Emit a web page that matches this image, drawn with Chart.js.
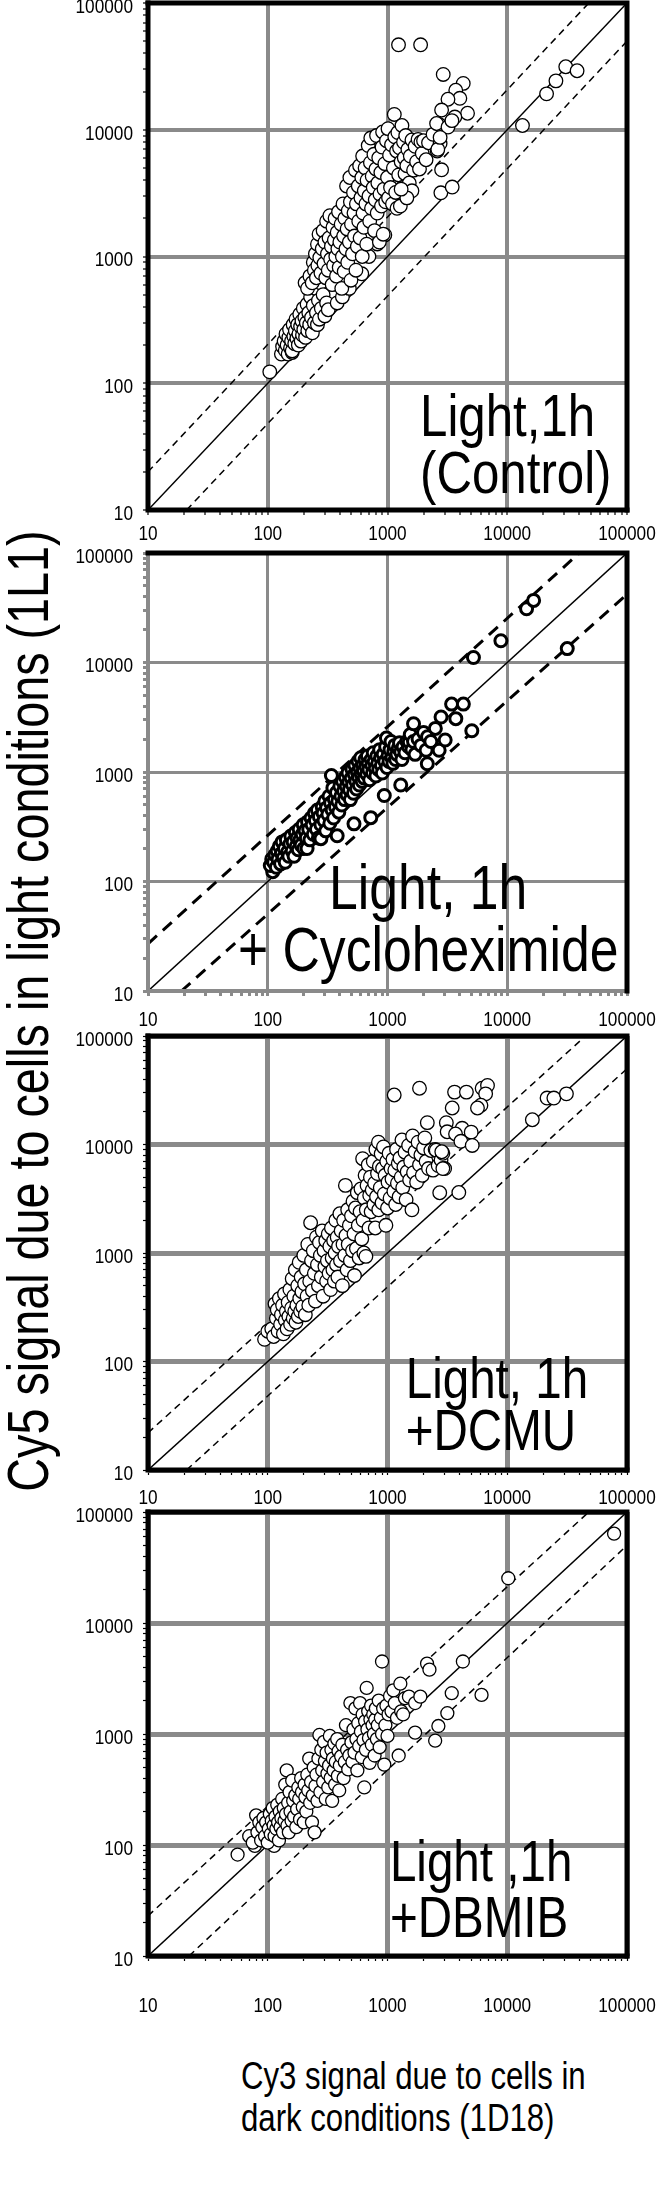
<!DOCTYPE html>
<html>
<head>
<meta charset="utf-8">
<script src="https://cdn.jsdelivr.net/npm/chart.js@4.4.0/dist/chart.umd.min.js"></script>
<style>
  html, body { margin: 0; padding: 0; background: #fff; }
  body { width: 665px; height: 2195px; position: relative; overflow: hidden; font-family: "Liberation Sans", Arial, sans-serif; }
  canvas { position: absolute; left: 0; }
  #ytitle { position: absolute; width: 1200px; height: 60px; line-height: 60px; text-align: center; white-space: nowrap; color: #000; }
  #xtitle { position: absolute; line-height: 42px; color: #000; white-space: nowrap; transform-origin: 0 0; }
</style>
</head>
<body>
<canvas id="grafico1"></canvas>
<canvas id="grafico2"></canvas>
<canvas id="grafico3"></canvas>
<canvas id="grafico4"></canvas>
<div id="ytitle"></div>
<div id="xtitle"></div>
<script>
// ---------------------------------------------------------------
// data  [Cy3 dark, Cy5 light]
// ---------------------------------------------------------------
var controlPts = [[104,123],[130,170],[133,195],[137,215],[140,182],[142,245],[145,200],[148,170],[150,230],[152,265],[155,190],[158,215],[160,175],[160,180],[163,290],[165,235],[168,205],[170,260],[172,320],[175,225],[178,290],[180,200],[182,245],[185,350],[188,280],[190,215],[193,310],[195,240],[198,390],[200,265],[204,330],[207,230],[210,300],[213,420],[216,260],[220,360],[224,290],[228,480],[232,330],[236,250],[240,410],[245,300],[250,560],[255,360],[260,290],[265,450],[270,320],[275,620],[280,390],[290,500],[300,340],[310,430],[320,380],[380,430],[420,480],[480,560],[610,730],[700,1000],[822,1256],[950,1480],
  [205,620],[215,560],[225,700],[235,620],[240,900],[245,780],[250,1050],[255,680],[260,1250],[262,850],[268,1500],[272,980],[278,740],[285,1150],[290,1600],[295,880],[300,1300],[305,680],[310,1900],[315,1050],[320,780],[325,1400],[330,2100],[335,950],[340,1200],[345,600],[350,1700],[355,850],[360,1350],[365,2000],[370,1000],[375,700],[380,1550],[385,1150],[390,2250],[395,820],[400,1300],[410,1800],[415,560],[420,1000],[425,2600],[430,1450],[435,760],[440,2000],[450,1150],[455,3600],[460,1650],[465,900],[470,2300],[480,1300],[485,4200],[490,2700],[495,650],[500,1800],[510,1050],[520,3200],[525,2200],[530,1450],[540,4800],[545,780],[550,2600],[560,1200],[570,3600],[575,1900],[585,5200],[590,1400],[600,2900],[610,4200],[615,1000],[620,6200],[625,2200],[635,1700],[640,3300],[650,5000],[660,2600],[670,1250],[675,4000],[690,7500],[700,3000],[710,1900],[720,5500],[725,8600],[735,2400],[745,4300],[760,3500],[770,6400],[780,1600],[790,2800],[800,4900],[810,9000],[820,2200],[830,3800],[845,6000],[855,1300],[865,3100],[880,4600],[890,2500],[900,7300],[910,9600],[920,1500],[935,3400],[950,5400],[965,2700],[980,8200],[1000,4200],[1010,10200],[1020,2900],[1040,6300],[1060,3500],[1080,7600],[1100,2600],[1120,5000],[1140,13200],[1150,8800],[1170,3200],[1190,6800],[1200,2400],[1220,9500],[1240,4400],[1260,7200],[1280,2500],[1300,5600],[1320,10800],[1340,3500],[1360,8000],[1380,6000],[1400,4500],[1420,9000],[1450,5200],[1480,7000],[1520,3800],[1550,6200],[1600,8300],[1650,4800],[1700,7400],[1750,5600],[1800,8400],[1850,4900],[1900,8000],[1950,6500],[2000,8200],[2100,5800],[2200,7900],[2400,9200],[2600,6800],[2700,11000],[2750,7800],
  [1236,46800],[1890,46800],[2920,27300],[4290,23200],[3715,20500],[4020,17700],[3200,17400],[4660,13500],[3650,12600],[2830,14300],[2570,11200],[3200,10500],[3450,11800],[30800,31400],[38300,29200],[25500,24300],[21300,19200],[13400,10800],[2790,3180],[3470,3530],[2830,4830],[2630,7000],[2750,8700],[1600,3300],[1450,2900],[1300,3400]];

var cycloPts = [[110,123],[105,140],[108,160],[112,150],[115,175],[118,135],[120,190],[122,160],[125,210],[128,145],[130,180],[132,230],[135,165],[138,200],[140,150],[143,240],[146,185],[150,170],[153,220],[156,260],[160,190],[163,230],[166,170],[170,280],[173,210],[176,250],[180,195],[183,300],[186,240],[190,215],[194,270],[198,330],[200,200],[205,290],[210,250],[213,200],[215,350],[220,300],[225,240],[230,380],[235,330],[240,270],[245,420],[250,360],[255,300],[260,450],[265,250],[270,390],[278,246],[278,330],[285,480],[290,420],[295,360],[300,540],[305,290],[310,470],[318,410],[325,600],[330,340],[335,520],[340,930],[345,450],[350,716],[355,380],[360,560],[368,480],[375,650],[380,262],[385,540],[392,430],[400,740],[408,600],[415,500],[422,820],[430,670],[438,560],[445,900],[452,740],[460,620],[468,980],[475,810],[482,690],[490,560],[498,880],[505,1060],[512,760],[520,640],[525,336],[528,950],[535,1150],[545,820],[552,700],[560,1000],[568,1250],[575,890],[582,760],[590,1080],[598,1350],[605,950],[615,820],[622,1150],[630,1020],[640,880],[650,1300],[660,1120],[670,960],[680,1400],[690,1200],[700,1050],[710,850],[725,383],[730,1300],[740,1150],[750,980],[760,1500],[775,1250],[790,1080],[800,920],[815,1400],[830,1200],[845,1050],[860,1600],[875,1350],[890,1150],[905,980],[920,1450],[940,610],[950,1250],[965,1700],[980,2040],[990,1100],[1010,1400],[1030,1250],[1050,1600],[1070,1900],[1090,1350],[1110,1200],[1130,1550],[1150,1750],[1170,1300],[1200,1450],[1230,1650],[1260,1850],[1290,760],[1290,1520],[1320,1300],[1350,1700],[1400,1500],[1450,1900],[1500,1700],[1520,1880],[1550,2200],[1600,1600],[1650,2760],[1650,1900],[1700,1450],[1800,2000],[1900,1750],[2000,2300],[2100,1580],[2150,1190],[2160,2100],[2300,1900],[2510,2500],[2700,1580],[2800,3180],[3030,1960],[3430,4170],[4300,4170],[3720,3070],[5060,2380],[5220,11100],[8850,15800],[14500,31000],[16600,36900],[31700,13400]];

var dcmuPts = [[94,160],[100,190],[108,200],[112,170],[115,340],[118,250],[120,300],[122,190],[125,380],[128,220],[130,270],[133,330],[135,180],[138,420],[140,240],[143,290],[145,200],[148,350],[150,260],[153,460],[155,220],[158,310],[160,580],[163,250],[165,400],[168,290],[170,700],[172,230],[175,330],[178,500],[180,260],[183,820],[185,380],[188,290],[190,600],[193,440],[196,320],[200,950],[203,520],[206,270],[210,700],[213,400],[216,1200],[220,330],[224,550],[228,1900],[232,850],[236,450],[240,1050],[245,650],[250,360],[255,1400],[260,780],[265,500],[270,1250],[275,950],[280,600],[285,1600],[290,400],[295,1050],[300,750],[305,1300],[310,550],[315,850],[320,1500],[325,650],[330,1150],[335,460],[340,1700],[345,900],[350,700],[355,1300],[360,550],[365,1000],[370,2000],[375,780],[380,1400],[385,600],[390,1150],[400,2300],[405,850],[410,1600],[420,500],[425,1200],[430,2000],[440,950],[445,4200],[450,1450],[460,700],[465,2500],[470,1200],[480,1800],[490,850],[500,2200],[510,1050],[515,3000],[525,1500],[530,620],[540,2600],[550,1100],[560,3600],[570,1800],[580,900],[590,2400],[600,3900],[610,1350],[620,7400],[625,2000],[635,1000],[640,3200],[650,5200],[660,930],[665,2500],[675,4200],[690,6500],[700,1700],[710,3400],[720,5000],[730,2400],[745,3800],[760,7000],[770,2800],[780,4400],[790,1700],[800,9000],[810,3300],[825,5400],[840,10500],[845,2500],[855,6300],[870,4000],[885,8200],[900,2900],[910,6000],[925,9500],[940,3500],[955,5200],[970,1800],[985,7000],[1000,2600],[1010,4500],[1030,8300],[1050,3200],[1070,6000],[1090,4800],[1110,7300],[1130,3700],[1150,5800],[1170,2800],[1190,9000],[1210,4400],[1230,6700],[1250,3300],[1270,7500],[1300,5000],[1320,11000],[1340,4000],[1370,6200],[1400,8500],[1430,3100],[1460,5600],[1500,9800],[1530,4700],[1560,7000],[1600,2500],[1620,12000],[1650,5500],[1700,8600],[1750,4500],[1800,10500],[1850,6500],[1900,8000],[1950,5200],[2000,9300],[2050,11500],[2100,7000],[2200,6000],[2300,8800],[2400,5800],[2500,9000],[2550,8850],[2650,6400],[2800,7200],[2900,8300],[3000,6000],
  [1138,28600],[1850,33000],[3630,30400],[4560,30400],[3470,21700],[6170,33000],[6840,35000],[6600,29300],[6030,23000],[5640,21700],[2150,15900],[3100,15900],[3150,13100],[4200,14100],[3700,12500],[5000,13000],[4100,10700],[5100,9800],[21500,26800],[24500,26800],[31200,29300],[16200,16900],[3940,3610],[2730,3590],[2840,8570],[2900,6000]];

var dbmibPts = [[56,82],[78,98],[113,98],[70,120],[75,105],[80,185],[82,130],[85,160],[88,110],[90,145],[92,175],[95,120],[97,160],[100,105],[102,140],[104,190],[106,125],[108,165],[110,215],[112,150],[114,120],[116,180],[118,140],[120,230],[122,160],[124,110],[126,200],[128,145],[130,175],[132,260],[134,130],[136,215],[138,165],[140,350],[142,190],[144,470],[146,150],[148,240],[150,130],[152,300],[155,200],[158,165],[160,380],[163,250],[166,180],[170,280],[173,145],[176,210],[180,330],[183,260],[186,170],[190,400],[193,300],[196,220],[200,160],[203,350],[206,270],[210,200],[214,430],[218,310],[222,600],[226,240],[230,370],[234,160],[238,280],[242,500],[246,130],[250,340],[255,430],[260,250],[265,600],[270,980],[275,300],[280,720],[285,470],[290,370],[295,850],[300,570],[305,260],[310,680],[315,440],[320,330],[325,520],[330,960],[335,400],[340,720],[345,250],[350,600],[355,470],[360,820],[365,350],[370,560],[380,900],[385,420],[390,700],[395,310],[400,520],[410,630],[420,800],[430,400],[440,560],[450,1200],[460,720],[470,480],[480,640],[490,1900],[500,840],[510,560],[520,1100],[530,680],[540,1700],[550,900],[560,470],[570,1250],[580,780],[590,1900],[600,1050],[610,620],[620,1500],[630,880],[640,330],[650,1300],[660,720],[670,2600],[680,1100],[690,1600],[700,920],[710,550],[720,1350],[730,1800],[740,800],[750,1200],[760,1500],[770,1000],[780,640],[790,1350],[800,1700],[815,900],[830,1200],[845,2000],[860,760],[880,1400],[900,4500],[900,1000],[920,1700],[940,530],[960,1200],[980,1800],[1000,960],[1020,1500],[1050,2200],[1080,1600],[1120,2470],[1150,1900],[1200,1400],[1240,640],[1280,2840],[1300,1600],[1350,1500],[1400,2100],[1510,2170],[1700,1030],[1700,1900],[1880,2170],[2140,4310],[2240,3800],[2500,870],[2660,1180],[3160,1540],[3440,2330],[4260,4500],[6100,2250],[10200,25300],[78000,63800]];

// reference lines (1:1 solid, 2-fold dashed)
var diag1to1 = [[10,10],[100000,100000]];
var diagUp = [[[10,20],[48000,100000]], [[10,27],[40000,100000]], [[10,22],[45000,100000]], [[10,23],[48000,100000]]];
var diagDown = [[[21,10],[100000,50000]], [[19,10],[100000,42000]], [[21,10],[100000,50000]], [[22,10],[100000,50000]]];

var axisTicks = [10,20,30,40,50,60,70,80,90,100,200,300,400,500,600,700,800,900,1000,2000,3000,4000,5000,6000,7000,8000,9000,10000,20000,30000,40000,50000,60000,70000,80000,90000,100000];
var majorTicks = [10,100,1000,10000,100000];

var panelLabels = [['Light,1h','(Control)'], ['Light, 1h','+ Cycloheximide'], ['Light, 1h','+DCMU'], ['Light ,1h','+DBMIB']];
var yTitle = 'Cy5 signal due to cells in light conditions (1L1)';
var xTitle = ['Cy3 signal due to cells in','dark conditions (1D18)'];

// ---------------------------------------------------------------
// fonts: the figure uses a narrow sans; squeeze the regular one if the narrow face is missing
// ---------------------------------------------------------------
var mctx = document.createElement('canvas').getContext('2d');
mctx.font = '40px "Liberation Sans Narrow", monospace';
var wN = mctx.measureText('Light,1h 100000').width;
mctx.font = '40px monospace';
var wM = mctx.measureText('Light,1h 100000').width;
var hasNarrow = Math.abs(wN - wM) > 0.5;
var FONT = hasNarrow ? '"Liberation Sans Narrow", "Liberation Sans", Arial, sans-serif' : '"Liberation Sans", Arial, sans-serif';
var SQ = hasNarrow ? 1 : 0.82;

// ---------------------------------------------------------------
// layout
// ---------------------------------------------------------------
var plotLeft = 148, plotRight = 627, padTop = 14;
var panels = [
  {id:'grafico1', data:controlPts, top:3,    h:507, axisH:44,  lblOff:24, grid:4, gridTick:'#000', gtw:1.2, frameL:'#000', r:6.8, bw:1.3, dash:[7,5], dw:1.5,
   txt:{x:0.568, y:[0.821,0.934], align:'left', size:60}},
  {id:'grafico2', data:cycloPts,   top:553,  h:438, axisH:44,  lblOff:29, grid:3, gridTick:'#8a8a8a', gtw:3, frameL:'#8a8a8a', r:6, bw:3, dash:[12,8], dw:3,
   txt:{x:0.585, y:[0.773,0.914], align:'center', size:63}},
  {id:'grafico3', data:dcmuPts,    top:1036, h:434, axisH:44,  lblOff:28, grid:5, gridTick:'#000', gtw:1.2, frameL:'#000', r:6.8, bw:1.3, dash:[7,5], dw:1.5,
   txt:{x:0.538, y:[0.797,0.916], align:'left', size:58}},
  {id:'grafico4', data:dbmibPts,   top:1512, h:444, axisH:70,  lblOff:50, grid:5, gridTick:'#000', gtw:1.2, frameL:'#000', r:6.5, bw:1.3, dash:[7,5], dw:1.5,
   txt:{x:0.505, y:[0.795,0.921], align:'left', size:58}}
];

var toXY = function(arr){ return arr.map(function(p){ return {x:p[0], y:p[1]}; }); };

var setTicks = function(scale){
  scale.ticks = axisTicks.map(function(v){ return {value:v, major: majorTicks.indexOf(v) >= 0}; });
};

var framePlugin = {
  id: 'frame',
  afterDraw: function(chart, args, o){
    var a = chart.chartArea, ctx = chart.ctx;
    ctx.save();
    ctx.lineCap = 'square';
    ctx.strokeStyle = o.leftColor; ctx.lineWidth = o.leftWidth;
    ctx.beginPath(); ctx.moveTo(a.left, a.top); ctx.lineTo(a.left, a.bottom); ctx.lineTo(a.right, a.bottom); ctx.stroke();
    ctx.strokeStyle = '#000'; ctx.lineWidth = 5;
    ctx.beginPath(); ctx.moveTo(a.left, a.top); ctx.lineTo(a.right, a.top); ctx.lineTo(a.right, a.bottom); ctx.stroke();
    ctx.restore();
  }
};

// squeezed text helper
var sqText = function(ctx, t, x, y){
  ctx.save();
  ctx.translate(x, y);
  ctx.scale(SQ, 1);
  ctx.fillText(t, 0, 0);
  ctx.restore();
};

var labelPlugin = {
  id: 'panelText',
  afterDraw: function(chart, args, o){
    var a = chart.chartArea, ctx = chart.ctx;
    ctx.fillStyle = '#000';
    ctx.font = o.size + 'px ' + FONT;
    ctx.textAlign = o.align;
    ctx.textBaseline = 'middle';
    o.lines.forEach(function(t, i){
      sqText(ctx, t, a.left + o.x * a.width, a.top + o.y[i] * a.height);
    });
  }
};

// decade labels, placed with the chart's own scales
var tickTextPlugin = {
  id: 'tickText',
  afterDraw: function(chart, args, o){
    var a = chart.chartArea, ctx = chart.ctx;
    var xs = chart.scales.x, ys = chart.scales.y;
    ctx.fillStyle = '#000';
    ctx.font = '21px ' + FONT;
    ctx.textBaseline = 'middle';
    majorTicks.forEach(function(v){
      ctx.textAlign = 'right';
      sqText(ctx, String(v), a.left - 15, ys.getPixelForValue(v) + 4);
      ctx.textAlign = 'center';
      sqText(ctx, String(v), xs.getPixelForValue(v), a.bottom + o.off);
    });
  }
};

var grafPanel = function(p, idx){
  var cv = document.getElementById(p.id);
  var H = padTop + p.h + p.axisH;
  cv.width = 665; cv.height = H;
  cv.style.width = '665px'; cv.style.height = H + 'px';
  cv.style.top = (p.top - padTop) + 'px';

  var axisCommon = function(){
    return {
      type: 'logarithmic', min: 10, max: 100000,
      afterBuildTicks: setTicks,
      border: {display: false},
      grid: {
        color: function(c){ return c.tick && c.tick.major ? '#8a8a8a' : 'rgba(0,0,0,0)'; },
        lineWidth: p.grid,
        tickColor: p.gridTick, tickWidth: p.gtw, tickLength: 5, drawTicks: true
      },
      ticks: {display: false}
    };
  };
  var xs = axisCommon();
  xs.position = 'bottom';
  xs.afterFit = function(s){ s.height = p.axisH; };
  var ys = axisCommon();
  ys.position = 'left';
  ys.afterFit = function(s){ s.width = plotLeft; };

  new Chart(cv.getContext('2d'), {
    type: 'scatter',
    data: {
      datasets: [
        {data: toXY(p.data), pointRadius: p.r, pointBorderWidth: p.bw, pointBackgroundColor: '#fff', pointBorderColor: '#000', order: 1},
        {data: toXY(diag1to1), showLine: true, pointRadius: 0, borderColor: '#000', borderWidth: 1.5, order: 2},
        {data: toXY(diagUp[idx]), showLine: true, pointRadius: 0, borderColor: '#000', borderWidth: p.dw, borderDash: p.dash, order: 2},
        {data: toXY(diagDown[idx]), showLine: true, pointRadius: 0, borderColor: '#000', borderWidth: p.dw, borderDash: p.dash, order: 2}
      ]
    },
    options: {
      responsive: false, animation: false, events: [],
      layout: {padding: {top: padTop, right: 665 - plotRight, left: 0, bottom: 0}},
      scales: {x: xs, y: ys},
      plugins: {
        legend: {display: false}, tooltip: {enabled: false},
        frame: {leftColor: p.frameL, leftWidth: idx === 1 ? 4 : 5},
        panelText: {lines: panelLabels[idx], x: p.txt.x, y: p.txt.y, align: p.txt.align, size: p.txt.size},
        tickText: {off: p.lblOff}
      }
    },
    plugins: [framePlugin, labelPlugin, tickTextPlugin]
  });
};

panels.forEach(grafPanel);

// axis titles shared by the four panels
var yt = document.getElementById('ytitle');
yt.textContent = yTitle;
yt.style.fontFamily = FONT;
yt.style.fontSize = '57px';
yt.style.left = (28 - 600) + 'px';
yt.style.top = (1011 - 30) + 'px';
yt.style.transform = 'rotate(-90deg) scaleX(' + SQ + ')';

var xt = document.getElementById('xtitle');
xt.innerHTML = xTitle.join('<br>');
xt.style.fontFamily = FONT;
xt.style.fontSize = '38px';
xt.style.left = '241px';
xt.style.top = (2076 - 21) + 'px';
xt.style.transform = 'scaleX(' + SQ + ')';
</script>
</body>
</html>
